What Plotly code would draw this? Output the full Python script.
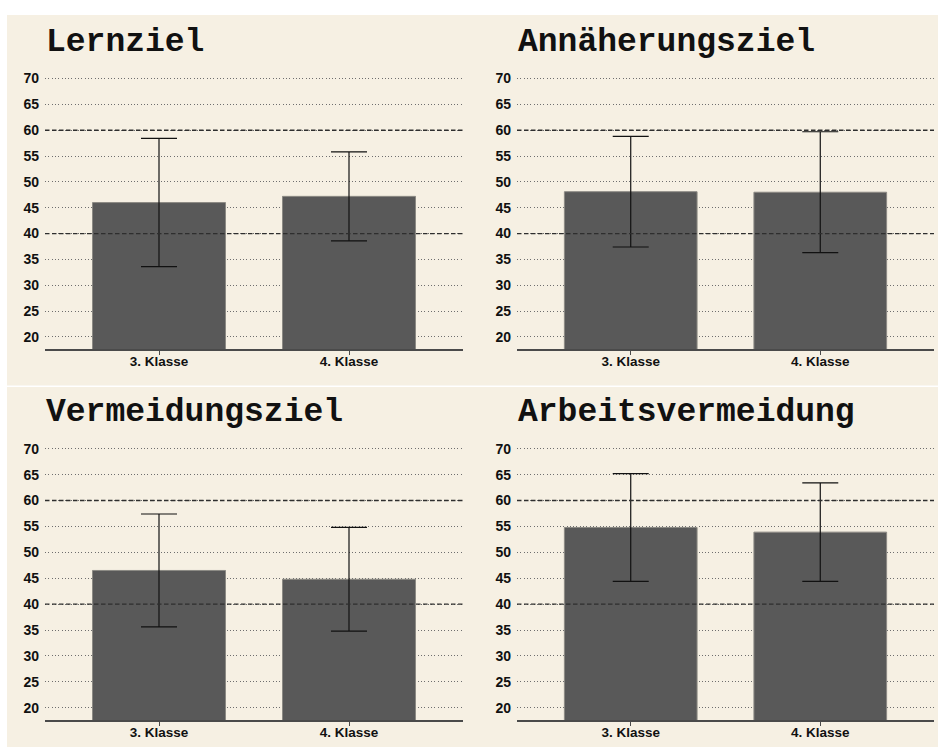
import plotly.graph_objects as go

# Motivation scales: mean and standard deviation per school grade
categories = ["3. Klasse", "4. Klasse"]
panel_titles = ["Lernziel", "Annäherungsziel", "Vermeidungsziel", "Arbeitsvermeidung"]
lernziel_mean = [46.0, 47.2]
lernziel_sd = [12.4, 8.6]
annaeherung_mean = [48.1, 48.0]
annaeherung_sd = [10.7, 11.7]
vermeidung_mean = [46.5, 44.8]
vermeidung_sd = [10.9, 10.0]
arbeit_mean = [54.8, 53.9]
arbeit_sd = [10.4, 9.5]
y_ticks = [20, 25, 30, 35, 40, 45, 50, 55, 60, 65, 70]
reference_lines = [40, 60]

W, H = 938, 747
BEIGE = "#F6F0E3"
BAR = "#595959"

panels = [
    (lernziel_mean, lernziel_sd),
    (annaeherung_mean, annaeherung_sd),
    (vermeidung_mean, vermeidung_sd),
    (arbeit_mean, arbeit_sd),
]

# plot-area pixel boxes (left, right, top, bottom)
boxes = [
    (45, 463, 71.4, 346.7),
    (517, 934, 71.4, 346.7),
    (45, 463, 444.1, 720.0),
    (517, 934, 444.1, 720.0),
]

fig = go.Figure()
layout = dict(
    width=W, height=H,
    margin=dict(l=0, r=0, t=0, b=0),
    paper_bgcolor="white",
    plot_bgcolor="rgba(0,0,0,0)",
    showlegend=False,
    shapes=[],
    annotations=[],
)

# beige panel backgrounds with a thin white gap between the rows
layout["shapes"].append(dict(type="rect", xref="paper", yref="paper",
                             x0=7 / W, x1=1, y0=1 - 10 / H, y1=1 - 383 / H,
                             fillcolor=BEIGE, line=dict(width=0), layer="below"))
layout["shapes"].append(dict(type="rect", xref="paper", yref="paper",
                             x0=7 / W, x1=1, y0=1 - 384.5 / H, y1=0,
                             fillcolor=BEIGE, line=dict(width=0), layer="below"))

for i, ((means, sds), (l, r, t, b)) in enumerate(zip(panels, boxes)):
    n = "" if i == 0 else str(i + 1)
    xa, ya = "x" + n, "y" + n
    fig.add_trace(go.Bar(
        x=[0, 1], y=means, width=0.7,
        marker=dict(color=BAR, line=dict(color="#8C8A84", width=1)),
        error_y=dict(type="data", array=sds, visible=True,
                     color="#111111", thickness=1.2, width=18),
        xaxis=xa, yaxis=ya, hoverinfo="skip",
    ))
    layout["xaxis" + n] = dict(
        domain=[l / W, r / W], anchor=ya, range=[-0.6, 1.6],
        tickmode="array", tickvals=[0, 1], ticktext=categories,
        showgrid=False, zeroline=False,
        showline=True, linecolor="#4A4A4A", linewidth=1.5,
        ticks="outside", ticklen=4, tickcolor="#4A4A4A", tickwidth=1,
        ticklabelstandoff=-5,
        tickfont=dict(family="Liberation Sans", size=13.5, color="#111111", weight="bold"),
        fixedrange=True,
    )
    layout["yaxis" + n] = dict(
        domain=[1 - b / H, 1 - t / H], anchor=xa, range=[17.6, 70.5],
        tickmode="array", tickvals=y_ticks,
        showgrid=True, gridcolor="#6E6E6E", gridwidth=1, griddash="1px,2.3px",
        zeroline=False, showline=False, ticks="",
        ticklabelstandoff=5,
        tickfont=dict(family="Liberation Sans", size=14, color="#111111", weight="bold"),
        fixedrange=True,
    )
    for v in reference_lines:
        layout["shapes"].append(dict(
            type="line", xref=xa + " domain", yref=ya, x0=0, x1=1, y0=v, y1=v,
            line=dict(color="#2E2E2E", width=1.4, dash="4.5px,2.5px"), layer="above"))
    layout["annotations"].append(dict(
        text="<b>" + panel_titles[i] + "</b>", xref="paper", yref="paper",
        x=(l - 1) / W, y=1 - (t - 13) / H, xanchor="left", yanchor="bottom",
        showarrow=False,
        font=dict(family="Liberation Mono", size=33, color="#111111")))

fig.update_layout(**layout)
fig.write_html("out.html")
